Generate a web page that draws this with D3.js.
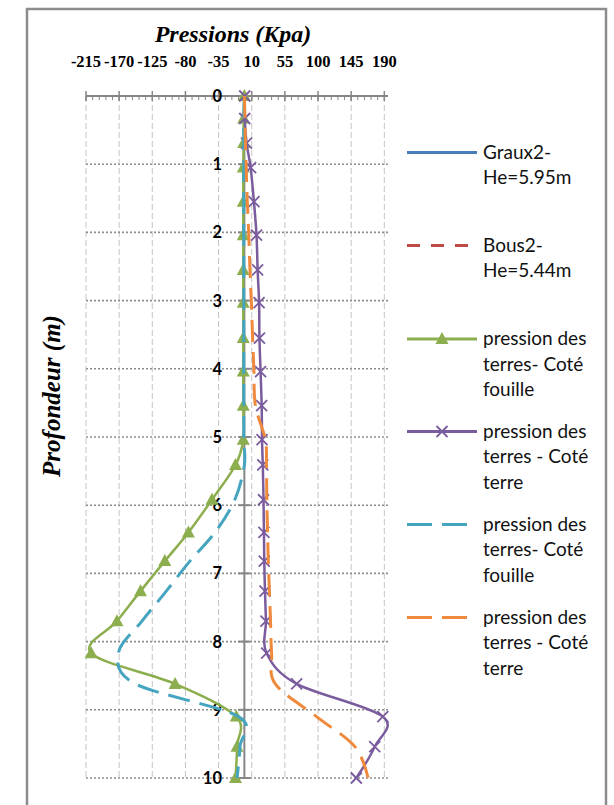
<!DOCTYPE html>
<html>
<head>
<meta charset="utf-8">
<script src="https://cdn.jsdelivr.net/npm/d3@7"></script>
<style>
  html, body { margin: 0; padding: 0; background: #fff; }
  svg { display: block; }
</style>
</head>
<body>
<svg id="chart" width="614" height="805"></svg>
<script>
// ---------- DATA ----------
const depths = [0, 0.33, 0.69, 1.05, 1.55, 2.04, 2.55, 3.03, 3.55, 4.04, 4.54, 5.04, 5.41, 5.92, 6.4, 6.82, 7.26, 7.7, 8.17, 8.62, 9.1, 9.54, 10];
const fouilleGraux = [0, -1, -1, -1.5, -1.5, -1.5, -1.5, -1.5, -1.5, -1.5, -1.5, -1.5, -12, -44, -76, -108, -141, -173, -208, -94, -11, -10, -12];
const terreGraux   = [0.5, 0.5, 3, 8.5, 13, 16.5, 18, 20, 20.5, 22, 23.5, 24, 25, 26, 26.6, 27, 28, 29.3, 30.2, 71, 188, 177, 152];
const fouilleBous  = [0, -0.8, -0.8, -0.8, -0.8, -0.8, -0.8, -0.8, -0.8, -0.8, -0.8, -0.8, 0, -13, -40, -74, -106, -139, -171, -148, -8, -6, -10];
const terreBous    = [0, 0.8, 1.5, 2.5, 4, 6, 7.6, 9.5, 11.2, 13, 15, 28.5, 30, 30.5, 31.5, 32.5, 34, 35.5, 37, 42, 98, 150, 168];
const xTicks = [-215, -170, -125, -80, -35, 10, 55, 100, 145, 190];
const yTicks = [0, 1, 2, 3, 4, 5, 6, 7, 8, 9, 10];
const legendLabels = [
  ["Graux2-", "He=5.95m"],
  ["Bous2-", "He=5.44m"],
  ["pression des", "terres- Coté", "fouille"],
  ["pression des", "terres - Coté", "terre"],
  ["pression des", "terres- Coté", "fouille"],
  ["pression des", "terres - Coté", "terre"]
];

// ---------- SETUP ----------
const svg = d3.select("#chart");
const plot = { left: 86, right: 388, top: 96, bottom: 778 };
const x = d3.scaleLinear().domain([-215, 195]).range([plot.left, plot.right]);
const y = d3.scaleLinear().domain([0, 10]).range([plot.top, plot.bottom]);

const colors = {
  graux: "#4a7ebb", bous: "#be4b48",
  green: "#8cae4e", purple: "#7a5c9e", cyan: "#45a5c0", orange: "#ef8a3c"
};

// chart frame
svg.append("rect").attr("x", 27).attr("y", 9).attr("width", 579).attr("height", 820)
  .attr("fill", "#fff").attr("stroke", "#8c8c8c").attr("stroke-width", 2.5);

// vertical gridlines (dashed light)
svg.append("g").selectAll("line").data(xTicks).join("line")
  .attr("x1", d => x(d)).attr("x2", d => x(d))
  .attr("y1", plot.top).attr("y2", plot.bottom)
  .attr("stroke", "#c4c4c4").attr("stroke-width", 1).attr("stroke-dasharray", "6,3");

// horizontal gridlines (dotted)
svg.append("g").selectAll("line").data(yTicks.slice(1)).join("line")
  .attr("x1", plot.left).attr("x2", plot.right)
  .attr("y1", d => y(d)).attr("y2", d => y(d))
  .attr("stroke", "#8e8e8e").attr("stroke-width", 1.6).attr("stroke-dasharray", "2,2");

// top axis
const topAxis = svg.append("g");
topAxis.append("line").attr("x1", plot.left).attr("x2", plot.right)
  .attr("y1", plot.top).attr("y2", plot.top).attr("stroke", "#868686").attr("stroke-width", 2);
const minor = d3.range(-215, 195.01, 9);
topAxis.selectAll("line.minor").data(minor).join("line").attr("class", "minor")
  .attr("x1", d => x(d)).attr("x2", d => x(d))
  .attr("y1", plot.top).attr("y2", plot.top + 4)
  .attr("stroke", "#868686").attr("stroke-width", 1);
topAxis.selectAll("line.major").data(xTicks).join("line").attr("class", "major")
  .attr("x1", d => x(d)).attr("x2", d => x(d))
  .attr("y1", plot.top - 5).attr("y2", plot.top + 5)
  .attr("stroke", "#868686").attr("stroke-width", 1.5);
topAxis.selectAll("text").data(xTicks).join("text")
  .attr("x", d => x(d)).attr("y", 67)
  .attr("text-anchor", "middle")
  .attr("font-family", "'Liberation Serif', 'Times New Roman', serif")
  .attr("font-weight", "bold").attr("font-size", 16.5)
  .text(d => d);

// vertical axis at x=0
const vAxis = svg.append("g");
vAxis.append("line").attr("x1", x(0)).attr("x2", x(0))
  .attr("y1", plot.top).attr("y2", plot.bottom).attr("stroke", "#868686").attr("stroke-width", 2);
vAxis.selectAll("line.tick").data(yTicks).join("line").attr("class", "tick")
  .attr("x1", x(0) - 6).attr("x2", x(0) + 6)
  .attr("y1", d => y(d)).attr("y2", d => y(d))
  .attr("stroke", "#868686").attr("stroke-width", 2);
vAxis.selectAll("text").data(yTicks).join("text")
  .attr("x", 222).attr("y", d => y(d)).attr("dy", "0.36em")
  .attr("text-anchor", "end")
  .attr("font-family", "Lato, 'Open Sans', sans-serif")
  .attr("font-weight", "bold").attr("font-size", 16.5)
  .text(d => d);

// titles
svg.append("text").attr("x", 233).attr("y", 42).attr("text-anchor", "middle")
  .attr("font-family", "'Liberation Serif', 'Times New Roman', serif")
  .attr("font-weight", "bold").attr("font-style", "italic").attr("font-size", 24)
  .text("Pressions (Kpa)");
svg.append("text").attr("transform", "translate(60,396) rotate(-90)")
  .attr("text-anchor", "middle")
  .attr("font-family", "'Liberation Serif', 'Times New Roman', serif")
  .attr("font-weight", "bold").attr("font-style", "italic").attr("font-size", 25)
  .text("Profondeur (m)");

// ---------- SERIES ----------
const line = d3.line().x(d => x(d[0])).y(d => y(d[1])).curve(d3.curveCardinal.tension(0));
const zip = vals => vals.map((v, i) => [v, depths[i]]);

const triPath = "M0,-7 L6.5,5 L-6.5,5 Z";
const xPath = "M-5.5,-5.5 L5.5,5.5 M-5.5,5.5 L5.5,-5.5";

function drawSeries(vals, color, opts) {
  const g = svg.append("g");
  g.append("path").datum(zip(vals)).attr("d", line)
    .attr("fill", "none").attr("stroke", color).attr("stroke-width", opts.width)
    .attr("stroke-dasharray", opts.dash || null);
  if (opts.marker === "tri") {
    g.selectAll("path.m").data(zip(vals)).join("path").attr("class", "m")
      .attr("transform", d => `translate(${x(d[0])},${y(d[1])})`)
      .attr("d", triPath).attr("fill", color);
  } else if (opts.marker === "x") {
    g.selectAll("path.m").data(zip(vals)).join("path").attr("class", "m")
      .attr("transform", d => `translate(${x(d[0])},${y(d[1])})`)
      .attr("d", xPath).attr("fill", "none").attr("stroke", color).attr("stroke-width", 1.8);
  }
}
drawSeries(fouilleGraux, colors.green, { width: 2.5, marker: "tri" });
drawSeries(terreGraux, colors.purple, { width: 2.5, marker: "x" });
drawSeries(fouilleBous, colors.cyan, { width: 3, dash: "22,10" });
drawSeries(terreBous, colors.orange, { width: 3, dash: "22,10" });

// ---------- LEGEND ----------
const legendItems = [
  { lineY: 152.5, color: colors.graux, dash: null, marker: null },
  { lineY: 245.5, color: colors.bous, dash: "13,11", marker: null },
  { lineY: 339, color: colors.green, dash: null, marker: "tri" },
  { lineY: 431.5, color: colors.purple, dash: null, marker: "x" },
  { lineY: 524.5, color: colors.cyan, dash: "25,10", marker: null },
  { lineY: 617.5, color: colors.orange, dash: "25,10", marker: null }
];
const lg = svg.append("g");
legendItems.forEach((it, i) => {
  lg.append("line").attr("x1", 407).attr("x2", 477).attr("y1", it.lineY).attr("y2", it.lineY)
    .attr("stroke", it.color).attr("stroke-width", 3).attr("stroke-dasharray", it.dash);
  if (it.marker === "tri") {
    lg.append("path").attr("transform", `translate(442,${it.lineY})`).attr("d", triPath).attr("fill", it.color);
  } else if (it.marker === "x") {
    lg.append("path").attr("transform", `translate(442,${it.lineY})`).attr("d", xPath)
      .attr("fill", "none").attr("stroke", it.color).attr("stroke-width", 1.8);
  }
  const t = lg.append("text").attr("x", 483).attr("y", it.lineY + 6)
    .attr("font-family", "Lato, 'Open Sans', sans-serif").attr("font-size", 19).attr("fill", "#111");
  legendLabels[i].forEach((s, k) => {
    t.append("tspan").attr("x", 483).attr("dy", k === 0 ? 0 : 25.5).text(s);
  });
});
</script>
</body>
</html>
